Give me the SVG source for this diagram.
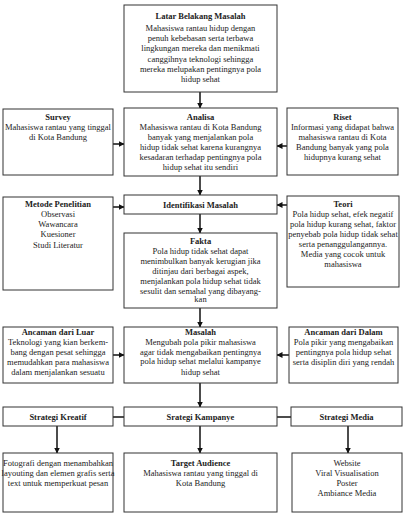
<svg xmlns="http://www.w3.org/2000/svg" width="407" height="520" viewBox="0 0 407 520">
<defs>
<marker id="ah" markerUnits="userSpaceOnUse" markerWidth="6" markerHeight="6" refX="5.5" refY="3" orient="auto">
<path d="M0,0 L6,3 L0,6 z" fill="#111"/>
</marker>
<style>
rect{fill:#fff;stroke:#333;stroke-width:1}
text{font-family:"Liberation Serif","Times New Roman",serif;font-size:8.5px;fill:#222;text-anchor:middle}
.b{font-weight:bold}
.c line{stroke:#111;stroke-width:1.5}
.a{marker-end:url(#ah)}
</style>
</defs>
<rect x="0" y="0" width="407" height="520" style="fill:#fff;stroke:none"/>
<g class="c">
<line class="a" x1="200" y1="92" x2="200" y2="108"/>
<line class="a" x1="200" y1="176" x2="200" y2="195"/>
<line class="a" x1="200" y1="214" x2="200" y2="233"/>
<line class="a" x1="200" y1="308" x2="200" y2="327"/>
<line class="a" x1="200" y1="383" x2="200" y2="407"/>
<line class="a" x1="57" y1="426" x2="57" y2="453"/>
<line class="a" x1="200" y1="426" x2="200" y2="453"/>
<line class="a" x1="348" y1="426" x2="348" y2="453"/>
<line class="a" x1="113" y1="144" x2="124" y2="144"/>
<line class="a" x1="287" y1="146" x2="277" y2="146"/>
<line class="a" x1="113" y1="207" x2="124" y2="207"/>
<line class="a" x1="287" y1="205" x2="277" y2="205"/>
<line class="a" x1="113" y1="355" x2="124" y2="355"/>
<line class="a" x1="289" y1="355" x2="277" y2="355"/>
<line x1="113" y1="417" x2="124" y2="417"/>
<line x1="277" y1="417" x2="291" y2="417"/>
</g>
<g id="latar">
<rect x="124" y="5" width="153" height="87"/>
<text x="200.5" y="19" class="b">Latar Belakang Masalah</text>
<text x="200.5" y="31">Mahasiswa rantau hidup dengan</text>
<text x="200.5" y="41.2">penuh kebebasan serta terbawa</text>
<text x="200.5" y="51.4">lingkungan mereka dan menikmati</text>
<text x="200.5" y="61.6">canggihnya teknologi sehingga</text>
<text x="200.5" y="71.8">mereka melupakan pentingnya pola</text>
<text x="200.5" y="82">hidup sehat</text>
</g>
<g id="survey">
<rect x="3" y="109" width="110" height="66"/>
<text x="58" y="120" class="b">Survey</text>
<text x="58" y="130">Mahasiswa rantau yang tinggal</text>
<text x="58" y="140">di Kota Bandung</text>
</g>
<g id="analisa">
<rect x="124" y="108" width="153" height="68"/>
<text x="200.5" y="120" class="b">Analisa</text>
<text x="200.5" y="130">Mahasiswa rantau di Kota Bandung</text>
<text x="200.5" y="140">banyak yang menjalankan pola</text>
<text x="200.5" y="150">hidup tidak sehat karena kurangnya</text>
<text x="200.5" y="160">kesadaran terhadap pentingnya pola</text>
<text x="200.5" y="170">hidup sehat itu sendiri</text>
</g>
<g id="riset">
<rect x="287" y="108" width="111" height="67"/>
<text x="342.5" y="119.5" class="b">Riset</text>
<text x="342.5" y="129.5">Informasi yang didapat bahwa</text>
<text x="342.5" y="139.5">mahasiswa rantau di Kota</text>
<text x="342.5" y="149.5">Bandung banyak yang pola</text>
<text x="342.5" y="159.5">hidupnya kurang sehat</text>
</g>
<g id="identifikasi">
<rect x="124" y="195" width="153" height="19"/>
<text x="200.5" y="207.5" class="b">Identifikasi Masalah</text>
</g>
<g id="metode">
<rect x="3" y="197" width="110" height="93"/>
<text x="58" y="207" class="b">Metode Penelitian</text>
<text x="58" y="217">Observasi</text>
<text x="58" y="227">Wawancara</text>
<text x="58" y="237">Kuesioner</text>
<text x="58" y="247.5">Studi Literatur</text>
</g>
<g id="teori">
<rect x="287" y="196" width="112" height="91"/>
<text x="343" y="207" class="b">Teori</text>
<text x="343" y="217">Pola hidup sehat, efek negatif</text>
<text x="343" y="227">pola hidup kurang sehat, faktor</text>
<text x="343" y="237">penyebab pola hidup tidak sehat</text>
<text x="343" y="247">serta penanggulangannya.</text>
<text x="343" y="257">Media yang cocok untuk</text>
<text x="343" y="267">mahasiswa</text>
</g>
<g id="fakta">
<rect x="124" y="233" width="153" height="75"/>
<text x="200.5" y="244" class="b">Fakta</text>
<text x="200.5" y="254">Pola hidup tidak sehat dapat</text>
<text x="200.5" y="264">menimbulkan banyak kerugian jika</text>
<text x="200.5" y="274">ditinjau dari berbagai aspek,</text>
<text x="200.5" y="284">menjalankan pola hidup sehat tidak</text>
<text x="200.5" y="293.5">sesulit dan semahal yang dibayang-</text>
<text x="200.5" y="302">kan</text>
</g>
<g id="ancaman-luar">
<rect x="3" y="327" width="110" height="56"/>
<text x="58" y="335" class="b">Ancaman dari Luar</text>
<text x="58" y="345">Teknologi yang kian berkem-</text>
<text x="58" y="355">bang dengan pesat sehingga</text>
<text x="58" y="365">memudahkan para mahasiswa</text>
<text x="58" y="375">dalam menjalankan sesuatu</text>
</g>
<g id="masalah">
<rect x="124" y="327" width="153" height="56"/>
<text x="200.5" y="335" class="b">Masalah</text>
<text x="200.5" y="345">Mengubah pola pikir mahasiswa</text>
<text x="200.5" y="354.5">agar tidak mengabaikan pentingnya</text>
<text x="200.5" y="364">pola hidup sehat melalui kampanye</text>
<text x="200.5" y="374.5">hidup sehat</text>
</g>
<g id="ancaman-dalam">
<rect x="289" y="327" width="109" height="56"/>
<text x="343.5" y="335" class="b">Ancaman dari Dalam</text>
<text x="343.5" y="345">Pola pikir yang mengabaikan</text>
<text x="343.5" y="355">pentingnya pola hidup sehat</text>
<text x="343.5" y="365">serta disiplin diri yang rendah</text>
</g>
<g id="strategi-kreatif">
<rect x="3" y="407" width="110" height="19"/>
<text x="58" y="420" class="b">Strategi Kreatif</text>
</g>
<g id="strategi-kampanye">
<rect x="124" y="407" width="153" height="19"/>
<text x="200.5" y="420" class="b">Srategi Kampanye</text>
</g>
<g id="strategi-media">
<rect x="291" y="407" width="111" height="19"/>
<text x="346.5" y="420" class="b">Strategi Media</text>
</g>
<g id="kreatif-detail">
<rect x="3" y="453" width="110" height="59"/>
<text x="58" y="466">Fotografi dengan menambahkan</text>
<text x="58" y="476">layouting dan elemen grafis serta</text>
<text x="58" y="486">text untuk memperkuat pesan</text>
</g>
<g id="target">
<rect x="124" y="453" width="153" height="59"/>
<text x="200.5" y="466" class="b">Target Audience</text>
<text x="200.5" y="476">Mahasiswa rantau yang tinggal di</text>
<text x="200.5" y="486">Kota Bandung</text>
</g>
<g id="media-detail">
<rect x="292" y="453" width="110" height="59"/>
<text x="347" y="466">Website</text>
<text x="347" y="476">Viral Visualisation</text>
<text x="347" y="486">Poster</text>
<text x="347" y="496">Ambiance Media</text>
</g>
</svg>
